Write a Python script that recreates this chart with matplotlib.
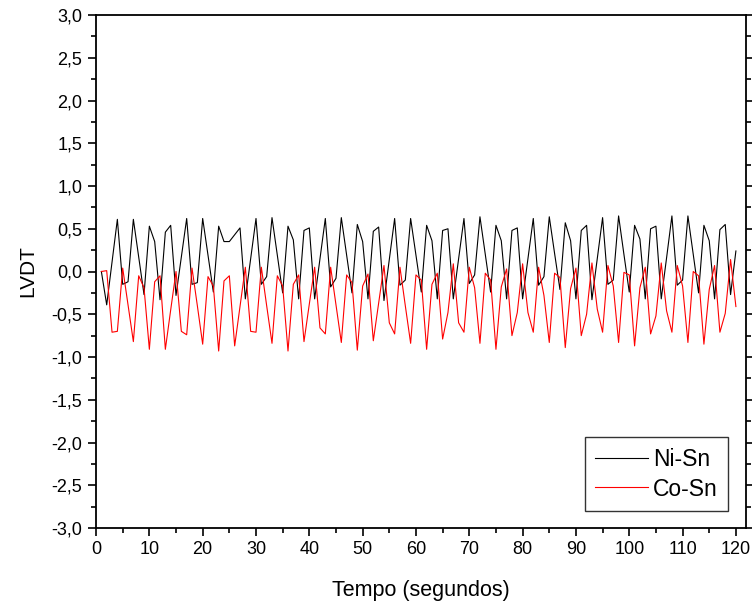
import matplotlib.pyplot as plt
import numpy as np
from matplotlib.ticker import MultipleLocator, FuncFormatter

plt.rcParams['font.family'] = ['Liberation Sans', 'DejaVu Sans']

# tempo em segundos
t = np.arange(1, 121)

ni_sn = [0.00, -0.39, 0.11, 0.61, -0.15, -0.12, 0.61, 0.17, -0.27, 0.53,
         0.35, -0.33, 0.46, 0.54, -0.28, 0.17, 0.62, -0.15, -0.13, 0.62,
         0.19, -0.24, 0.53, 0.35, 0.35, 0.43, 0.51, -0.32, 0.15, 0.62,
         -0.15, -0.06, 0.63, 0.19, -0.25, 0.53, 0.37, -0.32, 0.48, 0.51,
         -0.32, 0.15, 0.62, -0.18, -0.08, 0.63, 0.19, -0.25, 0.55, 0.35,
         -0.32, 0.47, 0.52, -0.34, 0.14, 0.62, -0.16, -0.10, 0.62, 0.19,
         -0.24, 0.54, 0.36, -0.32, 0.48, 0.50, -0.32, 0.15, 0.62, -0.14,
         -0.04, 0.64, 0.20, -0.24, 0.54, 0.36, -0.32, 0.48, 0.51, -0.32,
         0.15, 0.62, -0.16, -0.06, 0.64, 0.21, -0.21, 0.57, 0.36, -0.32,
         0.48, 0.54, -0.33, 0.15, 0.63, -0.15, -0.10, 0.65, 0.20, -0.24,
         0.54, 0.38, -0.32, 0.50, 0.53, -0.32, 0.16, 0.65, -0.16, -0.10,
         0.65, 0.20, -0.25, 0.54, 0.36, -0.32, 0.49, 0.55, -0.27, 0.24]

co_sn = [0.00, 0.01, -0.71, -0.70, 0.04, -0.39, -0.82, -0.05, -0.19, -0.91,
         -0.12, -0.05, -0.91, -0.45, 0.00, -0.70, -0.74, 0.04, -0.40, -0.85,
         -0.06, -0.17, -0.93, -0.11, -0.05, -0.87, -0.41, 0.05, -0.70, -0.71,
         0.05, -0.40, -0.84, -0.05, -0.17, -0.93, -0.15, -0.04, -0.82, -0.38,
         0.05, -0.66, -0.73, 0.05, -0.39, -0.83, -0.04, -0.13, -0.92, -0.17,
         -0.03, -0.81, -0.37, 0.07, -0.60, -0.73, 0.05, -0.40, -0.84, -0.04,
         -0.10, -0.91, -0.15, -0.02, -0.79, -0.48, 0.09, -0.60, -0.71, 0.05,
         -0.19, -0.84, -0.02, -0.10, -0.91, -0.18, 0.03, -0.75, -0.48, 0.09,
         -0.48, -0.71, 0.05, -0.28, -0.83, -0.02, -0.07, -0.89, -0.20, 0.04,
         -0.75, -0.50, 0.10, -0.44, -0.71, 0.07, -0.17, -0.83, -0.01, -0.04,
         -0.87, -0.19, 0.05, -0.73, -0.52, 0.10, -0.46, -0.71, 0.07, -0.17,
         -0.83, 0.00, -0.05, -0.85, -0.21, 0.07, -0.71, -0.49, 0.14, -0.41]

fig = plt.figure(figsize=(7.52, 6.05), dpi=100)
ax = fig.add_axes([95.5 / 752, 1 - 528 / 605, 650 / 752, 513 / 605])

ax.plot(t, ni_sn, color='black', lw=0.8, label='Ni-Sn')
ax.plot(t, co_sn, color='red', lw=0.8, label='Co-Sn')

ax.set_xlim(-0.1, 121.8)
ax.set_ylim(-3.0, 3.0)

ax.xaxis.set_major_locator(MultipleLocator(10))
ax.xaxis.set_minor_locator(MultipleLocator(5))
ax.yaxis.set_major_locator(MultipleLocator(0.5))
ax.yaxis.set_minor_locator(MultipleLocator(0.25))
ax.yaxis.set_major_formatter(FuncFormatter(lambda v, p: ('%.1f' % v).replace('.', ',')))

ax.tick_params(which='both', direction='out', top=False, right=True, labelsize=13)
ax.tick_params(which='major', length=6, width=1.2)
ax.tick_params(which='minor', length=3.5, width=1.2)
for s in ax.spines.values():
    s.set_linewidth(1.3)

ax.set_xlabel('Tempo (segundos)', fontsize=15.5, labelpad=16)
ax.set_ylabel('LVDT', fontsize=15, labelpad=10)

leg = ax.legend(loc='lower right', fontsize=16.5, frameon=True, fancybox=False,
                edgecolor='black', borderaxespad=0.75, handlelength=2.3,
                handletextpad=0.25, borderpad=0.45, labelspacing=0.3)
leg.get_frame().set_linewidth(1.0)

fig.savefig('out.png', dpi=100)
